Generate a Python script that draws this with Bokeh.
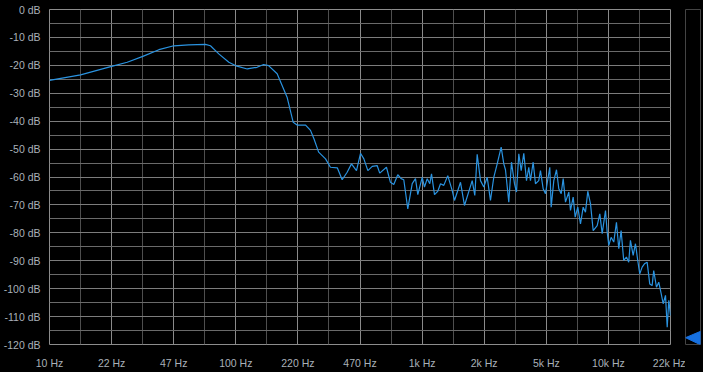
from bokeh.plotting import figure
from bokeh.models import Range1d, FixedTicker, BoxAnnotation, Label
from bokeh.layouts import row
from bokeh.embed import file_html
from bokeh.resources import INLINE

# ---- data ----
freq_hz = [10.0, 14.7, 21.6, 26.2, 31.8, 38.8, 46.7, 56.2, 69.1, 73.5, 81.5, 92.3,
           102, 116, 131, 142, 151, 168, 190, 205, 215, 239, 254, 265, 281, 306,
           325, 354, 376, 400, 422, 449, 472, 492, 517, 546, 580, 599, 651, 684,
           713, 749, 781, 807, 848, 896, 933, 960, 1014, 1043, 1079, 1114, 1138,
           1181, 1230, 1272, 1325, 1392, 1470, 1513, 1630, 1712, 1884, 1946, 2004,
           2088, 2175, 2269, 2363, 2462, 2568, 2698, 2787, 2846, 2965, 3066, 3182,
           3262, 3357, 3458, 3571, 3693, 3799, 3879, 4011, 4127, 4299, 4391, 4540,
           4672, 4928, 5014, 5180, 5356, 5511, 5677, 5819, 5987, 6237, 6370, 6586,
           6752, 6973, 7210, 7455, 7671, 7893, 8162, 8439, 8868, 9160, 9436, 9830,
           10040, 10240, 10540, 10890, 11260, 11590, 11930, 12320, 12740, 13110,
           13390, 13850, 14250, 14660, 15030, 15480, 15930, 16470, 17010, 17520,
           17870, 18490, 19020, 19600, 20090, 20680, 21120, 21540, 22000]
level_db = [-25.4, -23.4, -20.4, -18.9, -16.8, -14.4, -13.0, -12.65, -12.5, -13.0,
            -15.9, -18.9, -20.3, -21.3, -20.7, -19.7, -20.1, -23.0, -31.4, -40.4,
            -41.4, -41.4, -43.3, -46.3, -51.1, -53.5, -56.5, -56.7, -61.0, -58.3,
            -55.3, -57.7, -51.5, -53.5, -57.7, -56.2, -55.9, -58.6, -56.5, -61.9,
            -62.7, -59.2, -60.6, -61.0, -71.4, -62.4, -60.6, -66.3, -60.1, -63.6,
            -60.6, -62.4, -58.9, -66.3, -65.1, -62.4, -63.0, -59.5, -64.8, -68.4,
            -61.9, -70.2, -61.3, -66.6, -51.9, -61.3, -63.6, -60.1, -68.4, -60.1,
            -55.3, -49.3, -55.3, -57.4, -69.0, -54.7, -62.4, -65.4, -51.7, -57.7,
            -51.5, -61.3, -56.5, -61.3, -54.7, -62.4, -61.3, -57.7, -64.2, -66.0,
            -56.5, -70.8, -61.3, -57.4, -64.2, -66.0, -60.6, -69.0, -65.4, -72.0,
            -67.2, -74.4, -70.8, -76.8, -70.8, -72.6, -65.1, -69.6, -79.2, -77.4,
            -73.2, -80.3, -72.0, -79.8, -84.5, -81.6, -83.3, -76.2, -85.7, -79.2,
            -89.9, -88.7, -90.5, -82.7, -88.1, -83.9, -89.9, -94.7, -92.3, -91.1,
            -90.5, -98.3, -98.9, -93.5, -99.5, -97.7, -101.8, -105.4, -102.4, -113.8,
            -104.2, -109.6]

x_tick_labels = ["10 Hz", "22 Hz", "47 Hz", "100 Hz", "220 Hz", "470 Hz", "1k Hz",
                 "2k Hz", "5k Hz", "10k Hz", "22k Hz"]
y_ticks_db = [0, -10, -20, -30, -40, -50, -60, -70, -80, -90, -100, -110, -120]
meter_level_db = -120

F_MIN, F_MAX = 10.0, 22000.0
n_div = len(x_tick_labels) - 1
x_ticks = [F_MIN * (F_MAX / F_MIN) ** (i / n_div) for i in range(n_div + 1)]
x_minor = [F_MIN * (F_MAX / F_MIN) ** ((i + 0.5) / n_div) for i in range(n_div)]

BG = "#000000"
TXT = "#a9b1b9"

p = figure(width=685, height=372, x_axis_type="log", output_backend="svg",
           toolbar_location=None, x_range=Range1d(F_MIN, F_MAX),
           y_range=Range1d(-120, 0),
           min_border_left=49, min_border_right=15, min_border_top=9,
           min_border_bottom=28)
p.background_fill_color = BG
p.border_fill_color = BG
p.outline_line_color = "#8c8c8c"
p.outline_line_width = 1

p.xaxis.ticker = FixedTicker(ticks=x_ticks, minor_ticks=x_minor)
p.xaxis.major_label_overrides = {t: s for t, s in zip(x_ticks, x_tick_labels)}
p.yaxis.ticker = FixedTicker(ticks=y_ticks_db,
                             minor_ticks=[v - 5 for v in y_ticks_db[:-1]])
p.yaxis.major_label_overrides = {v: f"{v} dB" for v in y_ticks_db}

for ax in (p.xaxis, p.yaxis):
    ax.axis_line_color = None
    ax.major_tick_line_color = None
    ax.minor_tick_line_color = None
    ax.major_tick_out = 0
    ax.major_tick_in = 0
    ax.minor_tick_out = 0
    ax.minor_tick_in = 0
    ax.major_label_text_color = TXT
    ax.major_label_text_font = "Liberation Sans"
    ax.major_label_text_font_size = "10.5px"
p.yaxis.major_label_standoff = 9
p.xaxis.major_label_standoff = 12

p.xgrid.grid_line_color = "#8a8a8a"
p.xgrid.minor_grid_line_color = "#4e4e4e"
p.ygrid.grid_line_color = "#7c7c7c"
p.ygrid.minor_grid_line_color = "#6a6a6a"
for g in (p.xgrid, p.ygrid):
    g.grid_line_width = 1
    g.minor_grid_line_width = 1

p.line(freq_hz, level_db, line_color="#2a93e0", line_width=1.2)

# small handles in the top-left corner (screen units: from frame bottom-left)
FRAME_H = 372 - 9 - 28
p.add_layout(BoxAnnotation(left=0, right=40, bottom=FRAME_H, top=FRAME_H + 5,
                           left_units="screen", right_units="screen",
                           top_units="screen", bottom_units="screen",
                           fill_alpha=0, line_color="#8c8c8c", line_width=1,
                           level="overlay"))
p.add_layout(BoxAnnotation(left=-5, right=0, bottom=FRAME_H - 40, top=FRAME_H,
                           left_units="screen", right_units="screen",
                           top_units="screen", bottom_units="screen",
                           fill_alpha=0, line_color="#8c8c8c", line_width=1,
                           level="overlay"))
p.add_layout(Label(x=-2, y=FRAME_H + 3, x_units="screen", y_units="screen",
                   text="+", text_color="#8c8c8c", text_font_size="9px",
                   text_align="center", text_baseline="middle"))

# level meter on the right
m = figure(width=18, height=372, output_backend="svg", toolbar_location=None,
           x_range=Range1d(0, 1), y_range=Range1d(-122.5, 0),
           min_border_left=0, min_border_right=3, min_border_top=9,
           min_border_bottom=21)
m.xaxis.visible = False
m.yaxis.visible = False
m.xgrid.visible = False
m.ygrid.visible = False
m.background_fill_color = BG
m.border_fill_color = BG
m.outline_line_color = "#444444"
m.patch([0, 1, 1], [meter_level_db, meter_level_db + 2.3, meter_level_db - 2.6],
        fill_color="#1670e0", line_color="#1670e0")

layout = row(p, m, spacing=0)
layout.styles = {"background-color": BG}

html = file_html(layout, INLINE)
html = html.replace("<body>", '<body style="margin:0;background:#000;">')
open("out.html", "w").write(html)
